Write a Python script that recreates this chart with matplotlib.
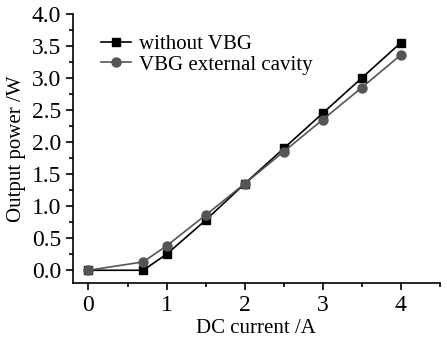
import matplotlib.pyplot as plt
from matplotlib.ticker import MultipleLocator

plt.rcParams['font.family'] = 'Liberation Serif'

current = [0, 0.7, 1.0, 1.5, 2.0, 2.5, 3.0, 3.5, 4.0]
power_no_vbg = [0.0, 0.0, 0.25, 0.78, 1.35, 1.9, 2.45, 3.0, 3.55]
power_vbg = [0.0, 0.13, 0.38, 0.86, 1.35, 1.85, 2.35, 2.85, 3.36]

fig = plt.figure(figsize=(4.47, 3.39), dpi=100)
ax = fig.add_axes([0.163, 0.165, 0.821, 0.794])

ax.plot(current, power_no_vbg, color='black', marker='s', markersize=6, lw=1.2,
        label='without VBG')
ax.plot(current, power_vbg, color='#555555', marker='o', markersize=6.5, lw=1.2,
        label='VBG external cavity')

ax.set_xlim(-0.2, 4.5)
ax.set_ylim(-0.2, 4.0)
ax.xaxis.set_major_locator(MultipleLocator(1))
ax.xaxis.set_minor_locator(MultipleLocator(0.5))
ax.yaxis.set_minor_locator(MultipleLocator(0.25))
ax.set_yticks([0, 0.5, 1.0, 1.5, 2.0, 2.5, 3.0, 3.5, 4.0])
ax.set_yticklabels(['0.0', '0.5', '1.0', '1.5', '2.0', '2.5', '3.0', '3.5', '4.0'])
ax.tick_params(which='major', direction='out', length=5, width=1.2, labelsize=17)
ax.tick_params(which='minor', direction='out', length=3, width=1.2)
ax.spines['top'].set_visible(False)
ax.spines['right'].set_visible(False)
ax.spines['left'].set_linewidth(1.2)
ax.spines['bottom'].set_linewidth(1.2)

ax.set_xlabel('DC current /A', fontsize=15, labelpad=2)
ax.set_ylabel('Output power /W', fontsize=15, labelpad=4)

ax.legend(loc='upper left', bbox_to_anchor=(0.055, 0.955), frameon=False,
          fontsize=15, handlelength=1.4, handletextpad=0.4, labelspacing=0.05,
          borderaxespad=0)

fig.savefig('out.png', dpi=100)
